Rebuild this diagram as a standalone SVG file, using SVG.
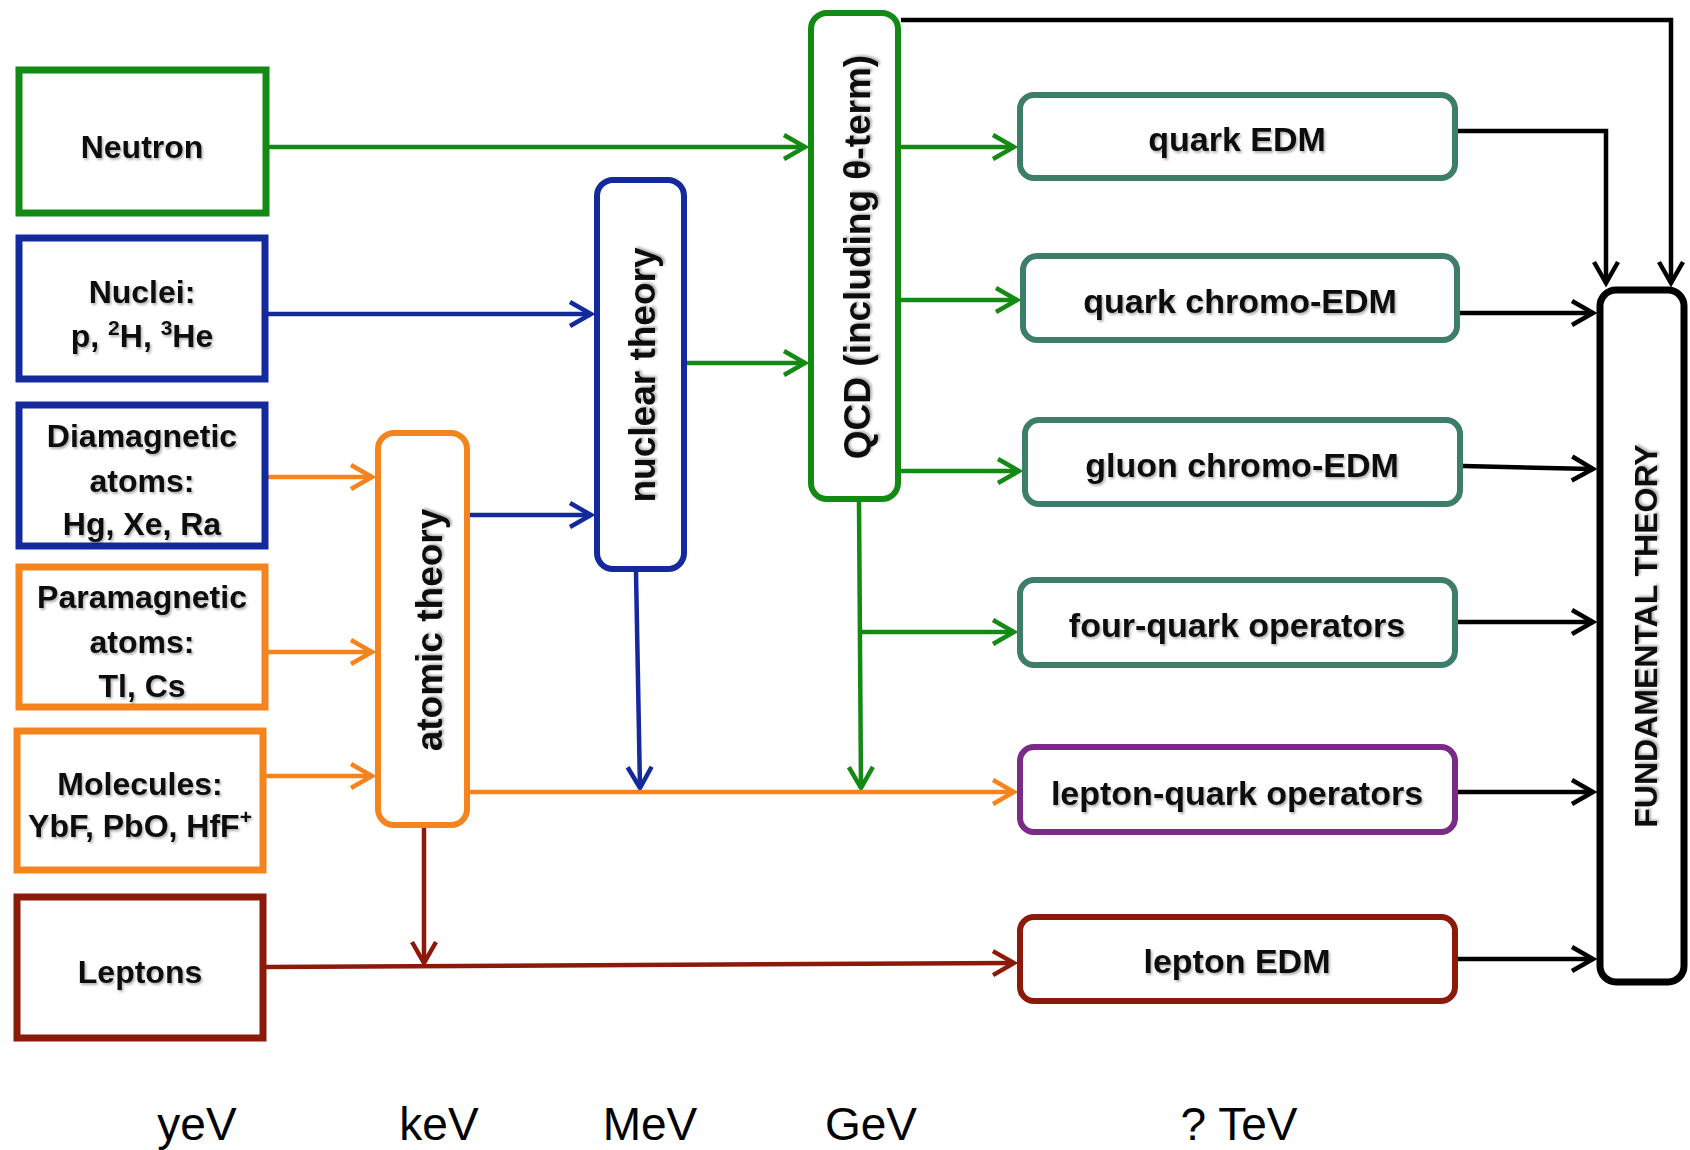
<svg xmlns="http://www.w3.org/2000/svg" width="1690" height="1150" viewBox="0 0 1690 1150">
<style>
.bx{fill:#fff;stroke-width:7}
.rb{fill:#fff;stroke-width:6}
.t{font-family:"Liberation Sans",Arial,sans-serif;font-weight:bold;fill:#111;text-anchor:middle;filter:url(#sh)}
.lt{font-size:32px}
.rt{font-size:34px}
.vt{font-size:37px}
.sup{font-size:21px}
.en{font-family:"Liberation Sans",Arial,sans-serif;font-size:46px;fill:#000;text-anchor:middle}
.c{fill:none;stroke-width:4.5}
.g{stroke:#138a13}.b{stroke:#14299c}.o{stroke:#f5841f}.r{stroke:#8c1a0b}.k{stroke:#000}
.tl{stroke:#3e7d69}.pu{stroke:#7a2b86}
</style>
<defs>
<filter id="sh" x="-10%" y="-20%" width="120%" height="150%"><feDropShadow dx="1.5" dy="2" stdDeviation="1.2" flood-color="#000" flood-opacity="0.3"/></filter>
<marker id="mg" markerUnits="userSpaceOnUse" viewBox="-25 -15 30 30" markerWidth="30" markerHeight="30" refX="0" refY="0" orient="auto"><path d="M-21,-12 L0,0 L-21,12" fill="none" stroke="#138a13" stroke-width="4.5"/></marker>
<marker id="mb" markerUnits="userSpaceOnUse" viewBox="-25 -15 30 30" markerWidth="30" markerHeight="30" refX="0" refY="0" orient="auto"><path d="M-21,-12 L0,0 L-21,12" fill="none" stroke="#14299c" stroke-width="4.5"/></marker>
<marker id="mo" markerUnits="userSpaceOnUse" viewBox="-25 -15 30 30" markerWidth="30" markerHeight="30" refX="0" refY="0" orient="auto"><path d="M-21,-12 L0,0 L-21,12" fill="none" stroke="#f5841f" stroke-width="4.5"/></marker>
<marker id="mr" markerUnits="userSpaceOnUse" viewBox="-25 -15 30 30" markerWidth="30" markerHeight="30" refX="0" refY="0" orient="auto"><path d="M-21,-12 L0,0 L-21,12" fill="none" stroke="#8c1a0b" stroke-width="4.5"/></marker>
<marker id="mk" markerUnits="userSpaceOnUse" viewBox="-25 -15 30 30" markerWidth="30" markerHeight="30" refX="0" refY="0" orient="auto"><path d="M-21,-12 L0,0 L-21,12" fill="none" stroke="#000" stroke-width="4.5"/></marker>
</defs>
<rect width="1690" height="1150" fill="#fff"/>

<g id="connectors">
<path class="c g" d="M262,147 H805" marker-end="url(#mg)"/>
<path class="c b" d="M268,314 H591" marker-end="url(#mb)"/>
<path class="c o" d="M268,477 H372" marker-end="url(#mo)"/>
<path class="c b" d="M470,515 H591" marker-end="url(#mb)"/>
<path class="c o" d="M268,652 H372" marker-end="url(#mo)"/>
<path class="c o" d="M266,776 H372" marker-end="url(#mo)"/>
<path class="c g" d="M687,363 H805" marker-end="url(#mg)"/>
<path class="c g" d="M901,147 H1014" marker-end="url(#mg)"/>
<path class="c g" d="M901,300 H1017" marker-end="url(#mg)"/>
<path class="c g" d="M901,471 H1019" marker-end="url(#mg)"/>
<path class="c g" d="M859,502 L861,788" marker-end="url(#mg)"/>
<path class="c g" d="M860,632 H1014" marker-end="url(#mg)"/>
<path class="c b" d="M636,572 L640,788" marker-end="url(#mb)"/>
<path class="c o" d="M470,792 H1014" marker-end="url(#mo)"/>
<path class="c r" d="M424,828 V963" marker-end="url(#mr)"/>
<path class="c r" d="M266,967 L1014,963" marker-end="url(#mr)"/>
<path class="c k" d="M1458,131 H1606 V283" marker-end="url(#mk)"/>
<path class="c k" d="M901,20 H1671 V283" marker-end="url(#mk)"/>
<path class="c k" d="M1460,313 H1593" marker-end="url(#mk)"/>
<path class="c k" d="M1463,466 L1593,469" marker-end="url(#mk)"/>
<path class="c k" d="M1458,622 H1593" marker-end="url(#mk)"/>
<path class="c k" d="M1458,792 H1593" marker-end="url(#mk)"/>
<path class="c k" d="M1458,959 H1593" marker-end="url(#mk)"/>
</g>

<g id="neutron"><rect class="bx g" x="19" y="70" width="247" height="143"/><text class="t lt" x="142" y="158">Neutron</text></g>
<g id="nuclei"><rect class="bx b" x="19" y="238" width="246" height="141"/><text class="t lt" x="142" y="303">Nuclei:</text><text class="t lt" x="142" y="347">p, <tspan class="sup" dy="-12">2</tspan><tspan dy="12">H, </tspan><tspan class="sup" dy="-12">3</tspan><tspan dy="12">He</tspan></text></g>
<g id="diamagnetic"><rect class="bx b" x="19" y="405" width="246" height="141"/><text class="t lt" x="142" y="447">Diamagnetic</text><text class="t lt" x="142" y="492">atoms:</text><text class="t lt" x="142" y="535">Hg, Xe, Ra</text></g>
<g id="paramagnetic"><rect class="bx o" x="19" y="567" width="246" height="140"/><text class="t lt" x="142" y="608">Paramagnetic</text><text class="t lt" x="142" y="653">atoms:</text><text class="t lt" x="142" y="697">Tl, Cs</text></g>
<g id="molecules"><rect class="bx o" x="17" y="731" width="246" height="139"/><text class="t lt" x="140" y="795">Molecules:</text><text class="t lt" x="140" y="837">YbF, PbO, HfF<tspan class="sup" dy="-13">+</tspan></text></g>
<g id="leptons"><rect class="bx r" x="17" y="897" width="246" height="141"/><text class="t lt" x="140" y="983">Leptons</text></g>

<g id="atomic-theory"><rect class="rb o" x="378" y="433" width="89" height="392" rx="16"/><text class="t vt" transform="translate(442,630) rotate(-90)">atomic theory</text></g>
<g id="nuclear-theory"><rect class="rb b" x="597" y="180" width="87" height="389" rx="16"/><text class="t vt" transform="translate(655,375) rotate(-90)">nuclear theory</text></g>
<g id="qcd"><rect class="rb g" x="811" y="13" width="87" height="486" rx="16"/><text class="t vt" transform="translate(870,257) rotate(-90)">QCD (including θ-term)</text></g>

<g id="quark-edm"><rect class="rb tl" x="1020" y="95" width="435" height="83" rx="14"/><text class="t rt" x="1237" y="151">quark EDM</text></g>
<g id="quark-chromo-edm"><rect class="rb tl" x="1023" y="256" width="434" height="84" rx="14"/><text class="t rt" x="1240" y="313">quark chromo-EDM</text></g>
<g id="gluon-chromo-edm"><rect class="rb tl" x="1025" y="420" width="435" height="84" rx="14"/><text class="t rt" x="1242" y="477">gluon chromo-EDM</text></g>
<g id="four-quark"><rect class="rb tl" x="1020" y="580" width="435" height="85" rx="14"/><text class="t rt" x="1237" y="637">four-quark operators</text></g>
<g id="lepton-quark"><rect class="rb pu" x="1020" y="747" width="435" height="85" rx="14"/><text class="t rt" x="1237" y="805">lepton-quark operators</text></g>
<g id="lepton-edm"><rect class="rb r" x="1020" y="917" width="435" height="84" rx="14"/><text class="t rt" x="1237" y="973">lepton EDM</text></g>
<g id="fundamental-theory"><rect class="bx k" x="1600" y="290" width="84" height="692" rx="16"/><text class="t" style="font-size:32px" transform="translate(1657,636) rotate(-90)">FUNDAMENTAL THEORY</text></g>

<g id="energy-scale">
<text class="en" x="197" y="1140">yeV</text>
<text class="en" x="439" y="1140">keV</text>
<text class="en" x="650" y="1140">MeV</text>
<text class="en" x="871" y="1140">GeV</text>
<text class="en" x="1239" y="1140">? TeV</text>
</g>
</svg>
